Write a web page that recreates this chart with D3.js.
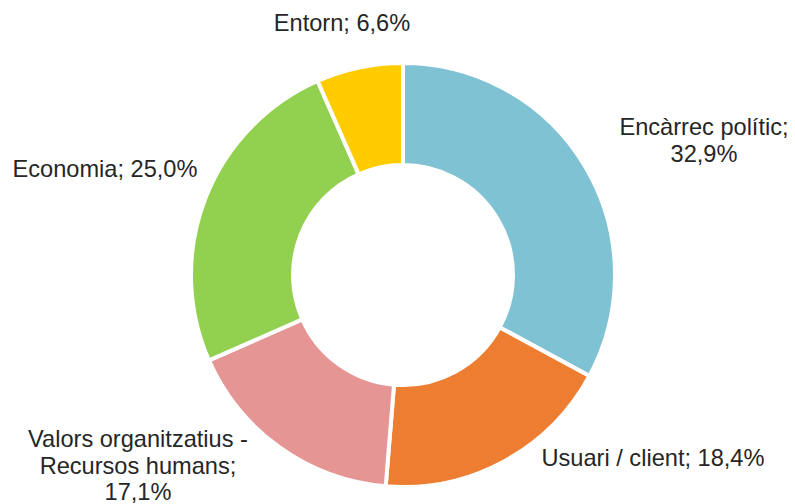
<!DOCTYPE html>
<html>
<head>
<meta charset="utf-8">
<script src="https://cdn.jsdelivr.net/npm/d3@7"></script>
<style>
  body { margin: 0; background: #fff; }
  svg text { font-family: 'Liberation Sans', Arial, sans-serif; font-size: 23.6px; fill: #262626; }
</style>
</head>
<body>
<script>
// dades del gràfic
let categories = ['Encàrrec polític', 'Usuari / client', 'Valors organitzatius - Recursos humans', 'Economia', 'Entorn'];
let values = [32.9, 18.4, 17.1, 25.0, 6.6];
let colors = ['#7FC2D3', '#ED7D31', '#E69595', '#92D050', '#FFCC00'];
let labelLines = [
  ['Encàrrec polític;', '32,9%'],
  ['Usuari / client; 18,4%'],
  ['Valors organitzatius -', 'Recursos humans;', '17,1%'],
  ['Economia; 25,0%'],
  ['Entorn; 6,6%']
];

// posició de les etiquetes (centre, línia base de la primera línia)
let labelPos = [[704, 135], [653, 466], [138, 447], [105, 177], [342, 31]];

const width = 795, height = 504;
const cx = 403, cy = 275, rOuter = 212, rInner = 110;

let svg = d3.select('body').append('svg')
  .attr('width', width)
  .attr('height', height);

let pie = d3.pie().sort(null).value(d => d);
let arc = d3.arc().innerRadius(rInner).outerRadius(rOuter);

let g = svg.append('g').attr('transform', 'translate(' + cx + ',' + cy + ')');

g.selectAll('path')
  .data(pie(values))
  .enter()
    .append('path')
    .attr('d', arc)
    .attr('fill', (d, i) => colors[i])
    .attr('stroke', '#fff')
    .attr('stroke-width', 4)
    .attr('stroke-linejoin', 'miter');

let labels = svg.selectAll('text.lbl')
  .data(categories)
  .enter()
    .append('text')
    .attr('class', 'lbl')
    .attr('text-anchor', 'middle')
    .attr('x', (d, i) => labelPos[i][0])
    .attr('y', (d, i) => labelPos[i][1]);

labels.each(function(d, i) {
  d3.select(this).selectAll('tspan')
    .data(labelLines[i])
    .enter()
      .append('tspan')
      .attr('x', labelPos[i][0])
      .attr('dy', (t, j) => j === 0 ? 0 : 26.5)
      .text(t => t);
});
</script>
</body>
</html>
